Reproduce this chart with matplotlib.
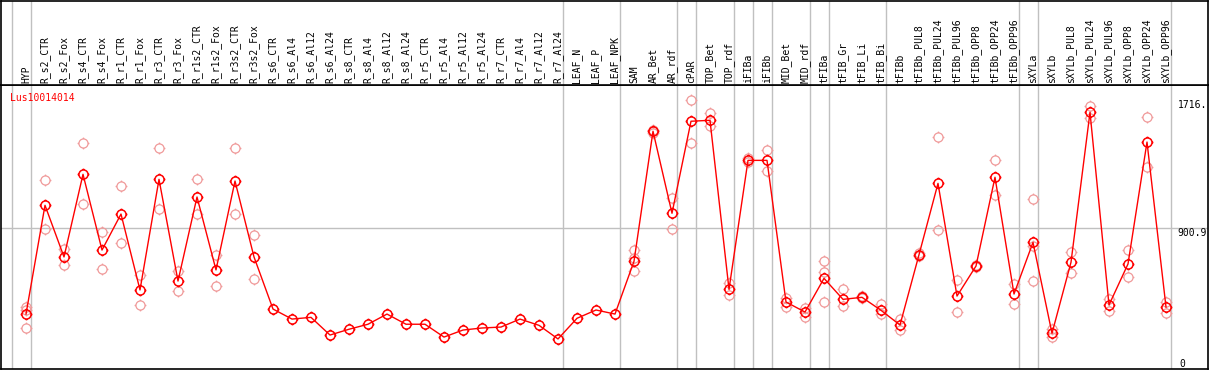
"""
plot.py -- expression profile of Lus10014014 across tissues/treatments.
"""
import matplotlib
matplotlib.use("Agg")
import matplotlib.pyplot as plt
import numpy as np
from matplotlib.path import Path

gene = "Lus10014014"

categories = [
    "HYP", "R_s2_CTR", "R_s2_Fox", "R_s4_CTR", "R_s4_Fox", "R_r1_CTR", "R_r1_Fox",
    "R_r3_CTR", "R_r3_Fox", "R_r1s2_CTR", "R_r1s2_Fox", "R_r3s2_CTR", "R_r3s2_Fox",
    "R_s6_CTR", "R_s6_Al4", "R_s6_Al12", "R_s6_Al24", "R_s8_CTR", "R_s8_Al4",
    "R_s8_Al12", "R_s8_Al24", "R_r5_CTR", "R_r5_Al4", "R_r5_Al12", "R_r5_Al24",
    "R_r7_CTR", "R_r7_Al4", "R_r7_Al12", "R_r7_Al24", "LEAF_N", "LEAF_P", "LEAF_NPK",
    "SAM", "AR_Bet", "AR_rdf", "cPAR", "TOP_Bet", "TOP_rdf", "iFIBa", "iFIBb",
    "MID_Bet", "MID_rdf", "tFIBa", "tFIB_Gr", "tFIB_Li", "tFIB_Bi", "tFIBb",
    "tFIBb_PUL8", "tFIBb_PUL24", "tFIBb_PUL96", "tFIBb_OPP8", "tFIBb_OPP24", "tFIBb_OPP96",
    "sXYLa", "sXYLb", "sXYLb_PUL8", "sXYLb_PUL24", "sXYLb_PUL96", "sXYLb_OPP8",
    "sXYLb_OPP24", "sXYLb_OPP96",
]

means = [
    351, 1046, 716, 1244, 760, 990, 505, 1212, 562, 1099, 633, 1201, 716,
    383, 319, 330, 217, 254, 286, 351, 286, 286, 204, 249, 262, 268, 319, 279, 192,
    324, 377, 351,
    688, 1519, 995, 1583, 1589, 509, 1333, 1333, 428, 364,
    579, 445, 458, 375, 281, 730, 1186, 466, 658, 1225, 479,
    809, 228, 682, 1640, 409, 671, 1450, 396,
]

replicates = [
    [396, 377, 262], [1206, 893], [765, 663], [1442, 1052], [873, 639], [1167, 805],
    [601, 409], [1410, 1022], [626, 498], [1212, 988], [728, 530], [1410, 988], [856, 575],
    [], [], [], [], [], [], [], [], [], [], [], [], [], [], [], [], [], [], [],
    [760, 707, 626], [1530, 1508], [1091, 893], [1716, 1442], [1634, 1553], [548, 475],
    [1346, 1324], [1397, 1263], [452, 398], [388, 330],
    [688, 618, 428], [509, 403], [466, 452], [415, 351], [318, 249], [739, 724],
    [1480, 888], [567, 362], [664, 654], [1333, 1110], [543, 413],
    [1084, 786, 562], [254, 203], [746, 613], [1680, 1604], [447, 369], [758, 586],
    [1608, 1289], [428, 360],
]

# group separators sit just right of these categories (None = left of the first one)
separators = [None, "HYP", "R_r7_Al24", "LEAF_NPK", "AR_rdf", "cPAR", "TOP_rdf", "iFIBa",
              "iFIBb", "MID_rdf", "tFIBa", "tFIB_Bi", "tFIBb_OPP96", "sXYLa", "sXYLb_OPP96"]

W, H = 1209, 370
RED = "#ff0000"
PINK = "#f09a9a"
GRID = "#c0c0c0"
MONO = "DejaVu Sans Mono"

# circle marker with tiny ticks, like the original bitmap marker
ticks = Path([(0, 1), (0, 1.3), (0, -1), (0, -1.3), (1, 0), (1.3, 0), (-1, 0), (-1.3, 0)],
             [Path.MOVETO, Path.LINETO] * 4)
marker = Path.make_compound_path(Path.unit_circle(), ticks)

x = np.arange(len(categories))
rep_max = max(v for r in replicates for v in r)
top_val = max(max(means), rep_max) * 1.05
xlim = ((1 - 26) / 19, (1208 - 26) / 19)

fig = plt.figure(figsize=(W / 100, H / 100), dpi=100)
ax = fig.add_axes([1 / W, 1 / H, 1207 / W, 284 / H])
hdr = fig.add_axes([1 / W, 285 / H, 1207 / W, 84.5 / H])

for a in (ax, hdr):
    a.set_xlim(*xlim)
    a.set_xticks([])
    a.set_yticks([])
    for s in a.spines.values():
        s.set_color("black")
        s.set_linewidth(1.2)
    for name in separators:
        pos = -1 if name is None else categories.index(name)
        a.axvline(pos + 0.25, color=GRID, lw=1, zorder=0)

hdr.set_ylim(0, 1)
for xi, lab in zip(x, categories):
    hdr.text(xi, 0.025, lab, rotation=90, ha="center", va="bottom",
             fontsize=7, family=MONO, color="black")

ax.set_ylim(0, top_val * 284 / 282)
ax.axhline(top_val / 2, color=GRID, lw=1, zorder=0)

for xi, reps in zip(x, replicates):
    if reps:
        ax.plot([xi] * len(reps), reps, linestyle="none", marker=marker, markersize=8.5,
                markerfacecolor="none", markeredgecolor=PINK, markeredgewidth=0.9, zorder=2)

ax.plot(x, means, color=RED, lw=1, marker=marker, markersize=8.5,
        markerfacecolor="none", markeredgecolor=RED, markeredgewidth=1.1, zorder=3)

ax.text(0.0075, 0.972, gene, transform=ax.transAxes, ha="left", va="top",
        fontsize=7, family=MONO, color=RED)

xr = len(categories) - 0.4
ax.text(xr, rep_max, f"{rep_max}.", ha="left", va="top", fontsize=7, family=MONO)
ax.text(xr, top_val / 2, f"{top_val / 2:.1f}", ha="left", va="top", fontsize=7, family=MONO)
ax.text(xr + 0.1, 0, "0", ha="left", va="bottom", fontsize=7, family=MONO)

plt.savefig("out.png", dpi=100)
plt.close()
